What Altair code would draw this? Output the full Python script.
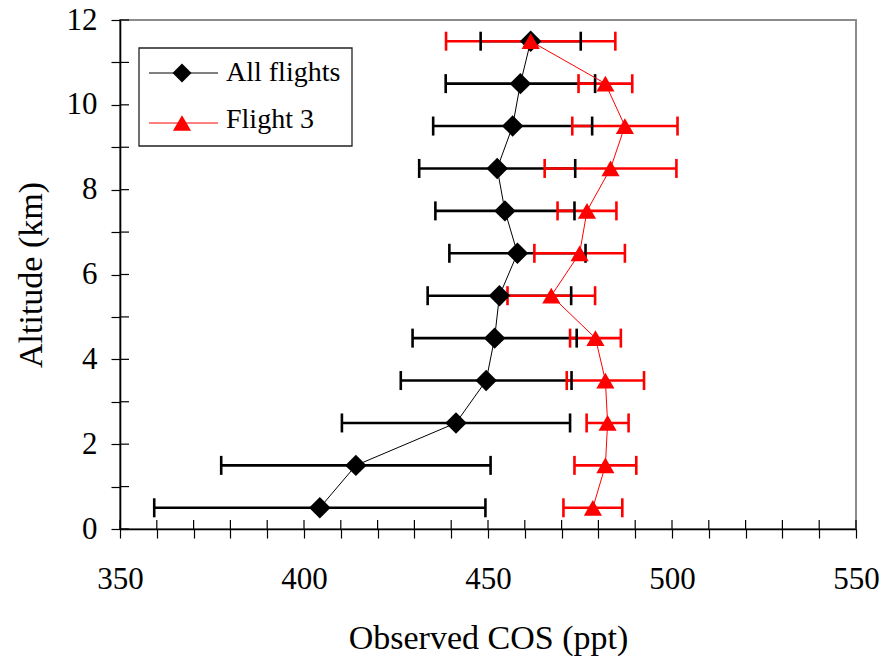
import altair as alt
import pandas as pd

# ---- data ----
altitude_km = [0.5, 1.5, 2.5, 3.5, 4.5, 5.5, 6.5, 7.5, 8.5, 9.5, 10.5, 11.5]
all_cos = [404.3, 414.1, 441.3, 449.5, 451.8, 453.1, 458.0, 454.6, 452.5, 456.7, 458.8, 461.6]
all_err = [45.0, 36.6, 31.0, 23.2, 22.3, 19.5, 18.5, 18.9, 21.2, 21.6, 20.3, 13.6]
f3_cos = [478.5, 481.9, 482.5, 481.9, 479.2, 467.2, 474.9, 476.9, 483.3, 487.2, 481.9, 461.6]
f3_err = [8.0, 8.4, 5.7, 10.5, 6.9, 11.9, 12.3, 8.0, 17.9, 14.3, 7.3, 23.0]

x_ticks = list(range(350, 551, 10))
y_ticks = list(range(0, 13))
legend_labels = ["All flights", "Flight 3"]

W, H = 736, 509
FONT = "Liberation Serif"

df_all = pd.DataFrame({"alt": altitude_km, "cos": all_cos, "err": all_err})
df_all["lo"] = df_all["cos"] - df_all["err"]
df_all["hi"] = df_all["cos"] + df_all["err"]
df_f3 = pd.DataFrame({"alt": altitude_km, "cos": f3_cos, "err": f3_err})
df_f3["lo"] = df_f3["cos"] - df_f3["err"]
df_f3["hi"] = df_f3["cos"] + df_f3["err"]

xs = alt.Scale(domain=[350, 550], nice=False, zero=False)
ys = alt.Scale(domain=[0, 12], nice=False, zero=False)

xax = alt.Axis(
    values=x_ticks,
    labelExpr="datum.value % 50 == 0 ? datum.label : ''",
    tickSize=9, tickColor="black", tickWidth=1.2,
    domainColor="black", domainWidth=1.6,
    labelFont=FONT, labelFontSize=31, labelColor="black", labelPadding=26,
    labelFlush=False, labelOverlap=False, grid=False,
    title="Observed COS (ppt)", titleFont=FONT, titleFontSize=34,
    titleFontWeight="normal", titleColor="black", titlePadding=27,
)
yax = alt.Axis(
    values=y_ticks,
    labelExpr="datum.value % 2 == 0 ? datum.label : ''",
    tickSize=9, tickColor="black", tickWidth=1.2,
    domainColor="black", domainWidth=1.6,
    labelFont=FONT, labelFontSize=31, labelColor="black", labelPadding=14,
    labelFlush=False, labelOverlap=False, grid=False,
    title="Altitude (km)", titleFont=FONT, titleFontSize=34,
    titleFontWeight="normal", titleColor="black", titlePadding=18,
)


def X(f):
    return alt.X(f, type="quantitative", scale=xs, axis=xax)


def Y(f):
    return alt.Y(f, type="quantitative", scale=ys, axis=yax)


def bars(df, color):
    base = alt.Chart(df)
    rule = base.mark_rule(color=color, strokeWidth=2.6, opacity=1).encode(
        x=X("lo"), x2="hi", y=Y("alt"))
    cap_lo = base.mark_tick(color=color, orient="vertical", size=19, thickness=2.6,
                            opacity=1).encode(x=X("lo"), y=Y("alt"))
    cap_hi = base.mark_tick(color=color, orient="vertical", size=19, thickness=2.6,
                            opacity=1).encode(x=X("hi"), y=Y("alt"))
    return rule, cap_lo, cap_hi


b_rule, b_lo, b_hi = bars(df_all, "black")
r_rule, r_lo, r_hi = bars(df_f3, "#ff0000")

b_line = alt.Chart(df_all).mark_line(color="black", strokeWidth=1).encode(
    x=X("cos"), y=Y("alt"), order="alt:Q")
b_pts = alt.Chart(df_all).mark_point(shape="diamond", filled=True, size=460,
                                     color="black", opacity=1).encode(
    x=X("cos"), y=Y("alt"))
r_line = alt.Chart(df_f3).mark_line(color="#ff0000", strokeWidth=1).encode(
    x=X("cos"), y=Y("alt"), order="alt:Q")
r_pts = alt.Chart(df_f3).mark_point(shape="triangle-up", filled=True, size=330,
                                    color="#ff0000", opacity=1).encode(
    x=X("cos"), y=Y("alt"))

# inner halves of the crossing ticks
xt = alt.Chart(pd.DataFrame({"v": x_ticks})).mark_rule(color="black", strokeWidth=1.2).encode(
    x=X("v"), y=alt.value(H), y2=alt.value(H - 9))
yt = alt.Chart(pd.DataFrame({"v": y_ticks})).mark_rule(color="black", strokeWidth=1.2).encode(
    y=Y("v"), x=alt.value(0), x2=alt.value(9))

# legend box
one = pd.DataFrame({"k": [0]})
leg_box = alt.Chart(one).mark_rect(fill="white", stroke="#222222", strokeWidth=1.3).encode(
    x=alt.value(19), x2=alt.value(232), y=alt.value(28), y2=alt.value(126))
leg_l1 = alt.Chart(one).mark_rule(color="black", strokeWidth=1).encode(
    x=alt.value(29), x2=alt.value(98), y=alt.value(53))
leg_l2 = alt.Chart(one).mark_rule(color="#ff0000", strokeWidth=1).encode(
    x=alt.value(29), x2=alt.value(98), y=alt.value(103))
leg_p1 = alt.Chart(one).mark_point(shape="diamond", filled=True, size=360, color="black",
                                   opacity=1).encode(x=alt.value(62), y=alt.value(53))
leg_p2 = alt.Chart(one).mark_point(shape="triangle-up", filled=True, size=330, color="#ff0000",
                                   opacity=1).encode(x=alt.value(62), y=alt.value(103))
leg_t1 = alt.Chart(one).mark_text(text=legend_labels[0], font=FONT, fontSize=28, align="left",
                                  baseline="middle", color="black").encode(
    x=alt.value(106), y=alt.value(52.5))
leg_t2 = alt.Chart(one).mark_text(text=legend_labels[1], font=FONT, fontSize=28, align="left",
                                  baseline="middle", color="black").encode(
    x=alt.value(106), y=alt.value(100))

chart = alt.layer(
    xt, yt,
    b_rule, r_rule, b_lo, b_hi, r_lo, r_hi,
    b_line, b_pts, r_line, r_pts,
    leg_box, leg_l1, leg_l2, leg_p1, leg_p2, leg_t1, leg_t2,
).properties(
    width=W, height=H,
    autosize=alt.AutoSizeParams(type="none"),
    padding={"left": 120, "top": 20, "right": 27, "bottom": 127},
    background="white",
).configure_view(stroke="#8c8c8c", strokeWidth=2)

chart.save("out.html", embed_options={"renderer": "svg", "actions": False})
